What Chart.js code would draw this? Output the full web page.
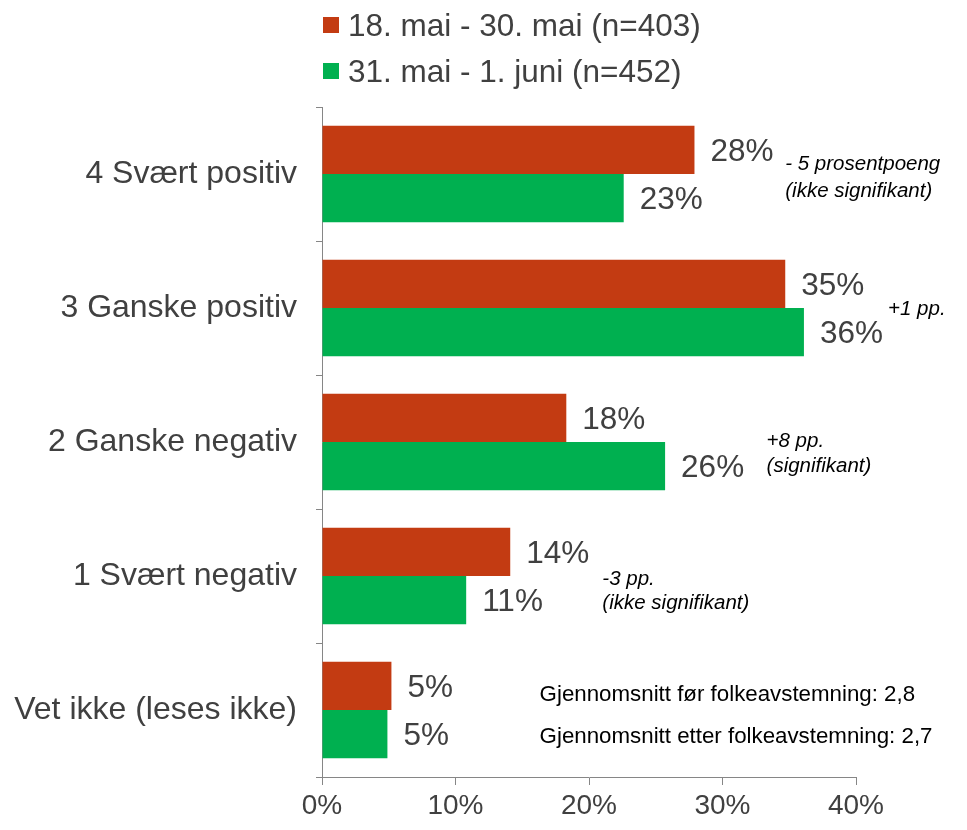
<!DOCTYPE html>
<html>
<head>
<meta charset="utf-8">
<script src="https://cdn.jsdelivr.net/npm/chart.js@4"></script>
<style>
  body { margin: 0; background: #fff; }
  #wrap { position: relative; width: 967px; height: 830px; }
  #legend { position: absolute; left: 323px; top: 2px; font-family: "Liberation Sans", Arial, sans-serif; font-size: 31.5px; color: #404040; }
  .item { display: flex; align-items: center; height: 46px; }
  .swatch { width: 16px; height: 16px; margin-right: 9px; flex: none; }
</style>
</head>
<body>
<div id="wrap">
  <canvas id="chart" width="967" height="830"></canvas>
  <div id="legend"></div>
</div>
<script>
// ====================
// Datos
// ====================
const categories = ['4 Svært positiv', '3 Ganske positiv', '2 Ganske negativ', '1 Svært negativ', 'Vet ikke (leses ikke)'];
const seriesNames = ['18. mai - 30. mai (n=403)', '31. mai - 1. juni (n=452)'];
const seriesColors = ['#C33B12', '#00B050'];
const before = [27.9, 34.7, 18.3, 14.1, 5.2];
const after = [22.6, 36.1, 25.7, 10.8, 4.9];
const xTicks = [0, 10, 20, 30, 40];

const notes = [
  ['- 5 prosentpoeng', '(ikke signifikant)'],
  ['+1 pp.'],
  ['+8 pp.', '(signifikant)'],
  ['-3 pp.', '(ikke signifikant)'],
  []
];
const averages = ['Gjennomsnitt før folkeavstemning: 2,8', 'Gjennomsnitt etter folkeavstemning: 2,7'];

const FONT = '"Liberation Sans", Arial, sans-serif';
const TEXT = '#404040';
const AXIS = '#868686';

// Leyenda en HTML
const legend = document.getElementById('legend');
seriesNames.forEach((name, i) => {
  const div = document.createElement('div');
  div.className = 'item';
  div.innerHTML = '<span class="swatch" style="background:' + seriesColors[i] + '"></span>' + name;
  legend.appendChild(div);
});

// Etiquetas de valor al final de cada barra
const valueLabels = {
  id: 'valueLabels',
  afterDatasetsDraw(chart) {
    const ctx = chart.ctx;
    ctx.save();
    ctx.font = '31.5px ' + FONT;
    ctx.fillStyle = TEXT;
    ctx.textAlign = 'left';
    ctx.textBaseline = 'middle';
    chart.data.datasets.forEach((ds, d) => {
      chart.getDatasetMeta(d).data.forEach((bar, i) => {
        ctx.fillText(Math.round(ds.data[i]) + '%', bar.x + 16, bar.y + 2);
      });
    });
    ctx.restore();
  }
};

// Notas de cambio y medias
const notePlace = [
  { x: 34.7, dy: [-10, 17] },
  { x: 42.4, dy: [1] },
  { x: 33.3, dy: [-1, 24] },
  { x: 21.0, dy: [3, 27] },
  { x: 0, dy: [] }
];
const annotations = {
  id: 'annotations',
  afterDraw(chart) {
    const ctx = chart.ctx;
    const xs = chart.scales.x, ys = chart.scales.y;
    ctx.save();
    ctx.fillStyle = '#000';
    ctx.textAlign = 'left';
    ctx.textBaseline = 'middle';
    ctx.font = 'italic 20.5px ' + FONT;
    notes.forEach((lines, i) => {
      const p = notePlace[i];
      const x = xs.getPixelForValue(p.x);
      const y = ys.getPixelForValue(i);
      lines.forEach((t, j) => ctx.fillText(t, x, y + p.dy[j]));
    });
    ctx.font = '22.3px ' + FONT;
    const ax = xs.getPixelForValue(16.3);
    const ay = ys.getPixelForValue(categories.length - 1);
    ctx.fillText(averages[0], ax, ay - 15);
    ctx.fillText(averages[1], ax, ay + 27);
    ctx.restore();
  }
};

new Chart(document.getElementById('chart'), {
  type: 'bar',
  data: {
    labels: categories,
    datasets: [
      { label: seriesNames[0], data: before, backgroundColor: seriesColors[0] },
      { label: seriesNames[1], data: after, backgroundColor: seriesColors[1] }
    ]
  },
  options: {
    indexAxis: 'y',
    responsive: false,
    animation: false,
    devicePixelRatio: 1,
    categoryPercentage: 0.72,
    barPercentage: 1,
    layout: { padding: { top: 107, right: 111, left: 0, bottom: 0 } },
    plugins: { legend: { display: false }, tooltip: { enabled: false } },
    scales: {
      x: {
        min: 0, max: 40,
        afterBuildTicks: s => { s.ticks = xTicks.map(v => ({ value: v })); },
        afterFit: s => { s.height = 53; },
        grid: { drawOnChartArea: false, tickLength: 8, color: AXIS },
        border: { color: AXIS },
        ticks: { callback: v => v + '%', font: { family: FONT, size: 28 }, color: TEXT, padding: 4, maxRotation: 0 }
      },
      y: {
        afterFit: s => { s.width = 322; },
        grid: { drawOnChartArea: false, tickLength: 6, color: AXIS, offset: true },
        border: { color: AXIS },
        ticks: { font: { family: FONT, size: 32 }, color: TEXT, padding: 19 }
      }
    }
  },
  plugins: [valueLabels, annotations]
});
</script>
</body>
</html>
